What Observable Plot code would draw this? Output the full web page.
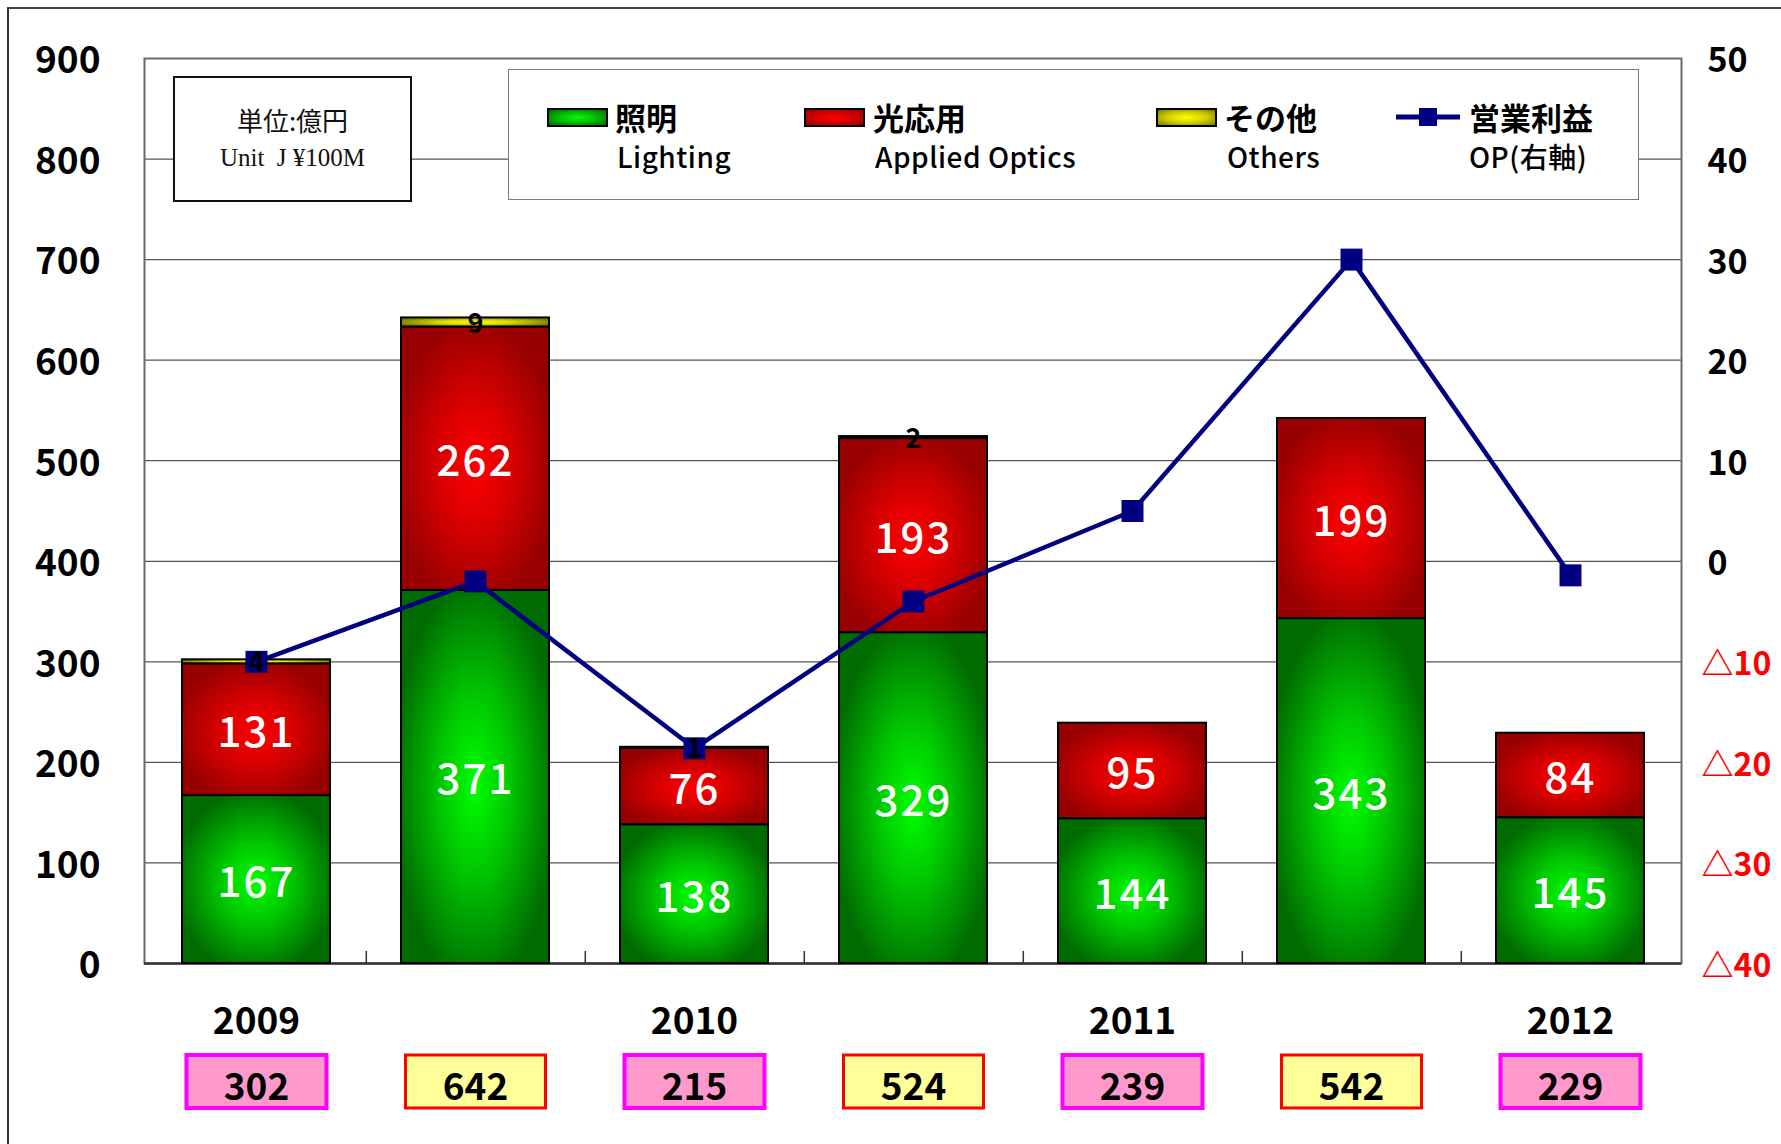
<!DOCTYPE html>
<html>
<head>
<meta charset="utf-8">
<script src="https://cdn.jsdelivr.net/npm/d3@7"></script>
<script src="https://cdn.jsdelivr.net/npm/@observablehq/plot@0.6"></script>
<style>
  html, body { margin: 0; padding: 0; background: #fff; overflow: hidden; }
  #wrap { position: relative; width: 1781px; height: 1144px; overflow: hidden; background: #fff;
          font-family: 'Noto Sans CJK JP', 'Noto Sans', sans-serif; }
  #outer { position: absolute; left: 7px; top: 7px; width: 1900px; height: 1300px;
           border-left: 2px solid #333; border-top: 2px solid #444; }
  #chart { position: absolute; left: 0; top: 0; }
  .box { position: absolute; background: #fff; box-sizing: border-box; }
  #unit { left: 173px; top: 76px; width: 239px; height: 126px; border: 2px solid #111;
          display: flex; flex-direction: column; align-items: center; justify-content: center; }
  #unit .jp { font-size: 26px; line-height: 38px; color: #111; }
  #unit .en { font-family: 'Liberation Serif', serif; font-size: 25px; line-height: 38px; color: #111; }
  #legend { left: 508px; top: 69px; width: 1131px; height: 131px; border: 1.5px solid #7a7a7a; }
  .sw { position: absolute; width: 57px; height: 15px; border: 2px solid #000; }
  .lj { position: absolute; font-size: 31px; font-weight: 700; line-height: 34px; color: #000; white-space: nowrap; }
  .le { position: absolute; font-size: 28px; font-weight: 500; line-height: 32px; color: #000; white-space: nowrap; letter-spacing: 0.5px; }
</style>
</head>
<body>
<div id="wrap">
  <div id="chart"></div>
  <div id="outer"></div>
  <div class="box" id="unit"><div class="jp">単位:億円</div><div class="en">Unit&nbsp;&nbsp;J ¥100M</div></div>
  <div class="box" id="legend"></div>
</div>
<script>
// ---------------- data ----------------
const periods = ["2009 1H", "2009", "2010 1H", "2010", "2011 1H", "2011", "2012 1H"];
const yearLabels = ["2009", "", "2010", "", "2011", "", "2012"];
const lighting = [167, 371, 138, 329, 144, 343, 145];
const appliedOptics = [131, 262, 76, 193, 95, 199, 84];
const others = [4, 9, 1, 2, 0, 0, 0];
const totals = [302, 642, 215, 524, 239, 542, 229];
const operatingProfit = [-10, -2, -18.6, -4, 5, 30, -1.4];
const leftTicks = [0, 100, 200, 300, 400, 500, 600, 700, 800, 900];
const rightTicks = [50, 40, 30, 20, 10, 0, -10, -20, -30, -40];
const seriesNames = ["照明", "光応用", "その他", "営業利益"];
const seriesNamesEn = ["Lighting", "Applied Optics", "Others", "OP(右軸)"];

// ---------------- layout ----------------
const W = 1781, H = 1144;
const M = {left: 144, right: 100, top: 58, bottom: 181};
const step = (W - M.left - M.right) / periods.length;
// right axis (-40..50) mapped onto left axis (0..900)
const RIGHT_MIN = -40, RIGHT_RATIO = 10;
const toLeft = r => (r - RIGHT_MIN) * RIGHT_RATIO;

const series = [
  {key: "Lighting", values: lighting, fill: "url(#gGreen)"},
  {key: "AppliedOptics", values: appliedOptics, fill: "url(#gRed)"},
  {key: "Others", values: others, fill: "url(#gYellow)"}
];
const segments = [];
periods.forEach((p, i) => {
  let base = 0;
  series.forEach(s => {
    const v = s.values[i];
    segments.push({period: p, series: s.key, y1: base, y2: base + v, value: v});
    base += v;
  });
});
const rows = periods.map((p, i) => ({period: p, year: yearLabels[i], total: totals[i], op: operatingProfit[i], idx: i}));

const boxSymbol = {draw(ctx) { ctx.moveTo(-70, -26.5); ctx.lineTo(70, -26.5); ctx.lineTo(70, 26.5); ctx.lineTo(-70, 26.5); ctx.closePath(); }};

const marks = [
  Plot.ruleY(leftTicks.filter(t => t > 0 && t < 900), {stroke: "#555", strokeWidth: 1.2}),
  Plot.frame({stroke: "#6a6a6a", strokeWidth: 2}),
  Plot.ruleY([0], {stroke: "#333", strokeWidth: 2.5}),
  Plot.ruleX(periods.slice(0, -1), {x: d => d, y1: 0, y2: 12, dx: step / 2, stroke: "#333", strokeWidth: 1.5}),
  ...series.map(s => Plot.barY(segments.filter(d => d.series === s.key && d.value > 0),
    {x: "period", y1: "y1", y2: "y2", fill: s.fill, stroke: "#000", strokeWidth: 2})),
  Plot.line(rows, {x: "period", y: d => toLeft(d.op), stroke: "#000080", strokeWidth: 4.5}),
  Plot.dot(rows, {x: "period", y: d => toLeft(d.op), symbol: "square", r: 12.4, fill: "#000080"}),
  Plot.text(segments.filter(d => d.series !== "Others"),
    {x: "period", y: d => (d.y1 + d.y2) / 2, text: d => String(d.value), fill: "white", fontSize: 42, fontWeight: 500, dy: 4}),
  Plot.text(segments.filter(d => d.series === "Others" && d.value > 0),
    {x: "period", y: d => (d.y1 + d.y2) / 2, text: d => String(d.value), fill: "black", fontSize: 27, fontWeight: "bold", dy: 2}),
  // left axis labels
  Plot.text(leftTicks, {y: d => d, text: d => String(d), frameAnchor: "left", textAnchor: "end", dx: -44, dy: 3,
    fontSize: 37, fontWeight: "bold", fill: "black"}),
  // right axis labels
  Plot.text(rightTicks.filter(r => r >= 0), {y: toLeft, text: r => String(r), frameAnchor: "right", textAnchor: "start", dx: 26, dy: 3,
    fontSize: 34, fontWeight: "bold", fill: "black"}),
  Plot.text(rightTicks.filter(r => r < 0), {y: toLeft, text: r => "△" + Math.abs(r), frameAnchor: "right", textAnchor: "start", dx: 20, dy: 3,
    fontSize: 32, fontWeight: "bold", fill: "#ff0000"}),
  // year labels
  Plot.text(rows.filter(d => d.year), {x: "period", text: "year", frameAnchor: "bottom", dy: 70, fontSize: 37, fontWeight: "bold", fill: "black"}),
  // total boxes
  Plot.dot(rows.filter(d => d.idx % 2 === 0), {x: "period", frameAnchor: "bottom", dy: 118, symbol: boxSymbol, r: 10,
    fill: "#ff99cc", stroke: "#ff00ff", strokeWidth: 4}),
  Plot.dot(rows.filter(d => d.idx % 2 === 1), {x: "period", frameAnchor: "bottom", dy: 118, symbol: boxSymbol, r: 10,
    fill: "#ffff99", stroke: "#ff0000", strokeWidth: 3}),
  Plot.text(rows, {x: "period", text: d => String(d.total), frameAnchor: "bottom", dy: 136, fontSize: 37, fontWeight: "bold", fill: "black"})
];

const svg = Plot.plot({
  width: W, height: H,
  marginLeft: M.left, marginRight: M.right, marginTop: M.top, marginBottom: M.bottom,
  x: {type: "band", domain: periods, paddingInner: 0.326, paddingOuter: 0.163, align: 0.5, axis: null},
  y: {domain: [0, 900], axis: null},
  style: {fontFamily: "'Noto Sans CJK JP', 'Noto Sans', sans-serif", background: "transparent", overflow: "visible"},
  marks
});

// gradients for the bars
const defs = d3.select(svg).insert("defs", ":first-child");
function grad(id, c0, c1, c2) {
  const g = defs.append("radialGradient").attr("id", id).attr("cx", "50%").attr("cy", "52%").attr("r", "55%");
  g.append("stop").attr("offset", "0%").attr("stop-color", c0);
  g.append("stop").attr("offset", "45%").attr("stop-color", c1);
  g.append("stop").attr("offset", "100%").attr("stop-color", c2);
}
grad("gGreen", "#00ff00", "#00c400", "#006c00");
grad("gRed", "#ff0000", "#d80000", "#980000");
grad("gYellow", "#ffff00", "#d8d800", "#7a7a00");
// slightly spaced, lighter digits inside the bars (as in the original)
d3.select(svg).selectAll("g[fill='white'] text").attr("letter-spacing", "2px");
document.getElementById("chart").appendChild(svg);

// legend (inside plot area, as in the original)
const legend = document.getElementById("legend");
const swFills = [
  "radial-gradient(ellipse at center, #00ff00 0%, #00b800 50%, #006c00 100%)",
  "radial-gradient(ellipse at center, #ff0000 0%, #d00000 50%, #980000 100%)",
  "radial-gradient(ellipse at center, #ffff00 0%, #d0d000 50%, #7a7a00 100%)"
];
const swLeft = [38, 295, 647];
const jpLeft = [106, 364, 715, 960];
const enLeft = [108, 366, 718, 960];
swFills.forEach((f, i) => {
  const d = document.createElement("div");
  d.className = "sw"; d.style.left = swLeft[i] + "px"; d.style.top = "38px"; d.style.background = f;
  legend.appendChild(d);
});
// line swatch
const ls = document.createElementNS("http://www.w3.org/2000/svg", "svg");
ls.setAttribute("width", "64"); ls.setAttribute("height", "24");
ls.style.position = "absolute"; ls.style.left = "887px"; ls.style.top = "35px";
ls.innerHTML = '<line x1="0" y1="12" x2="64" y2="12" stroke="#000080" stroke-width="5"/><rect x="23" y="3" width="18" height="18" fill="#000080"/>';
legend.appendChild(ls);
seriesNames.forEach((n, i) => {
  const a = document.createElement("div");
  a.className = "lj"; a.textContent = n; a.style.left = jpLeft[i] + "px"; a.style.top = "30px";
  legend.appendChild(a);
  const b = document.createElement("div");
  b.className = "le"; b.textContent = seriesNamesEn[i]; b.style.left = enLeft[i] + "px"; b.style.top = "70px";
  legend.appendChild(b);
});
</script>
</body>
</html>
